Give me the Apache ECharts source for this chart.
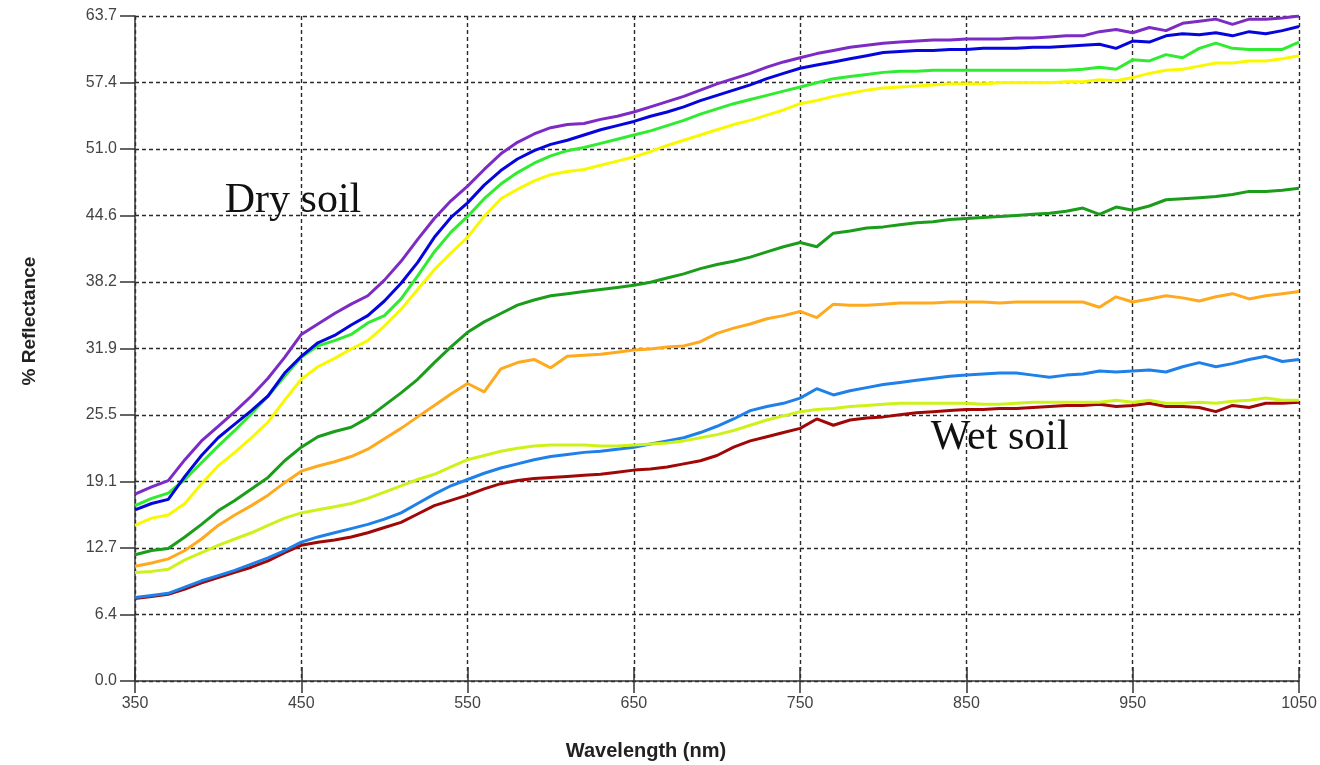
<!DOCTYPE html>
<html>
<head>
    <meta charset="utf-8">
    <title>Soil reflectance</title>
    <script src="https://cdn.jsdelivr.net/npm/echarts@6/dist/echarts.min.js"></script>
    <style type="text/css">
        html, body { margin: 0; padding: 0; background: #fff; }
        #main { width: 1320px; height: 765px; }
    </style>
</head>
<body>
<div id="main"></div>
<script type="text/javascript">
    // wavelength (nm), one sample every 10 nm
    var wavelengths = [350, 360, 370, 380, 390, 400, 410, 420, 430, 440,
        450, 460, 470, 480, 490, 500, 510, 520, 530, 540,
        550, 560, 570, 580, 590, 600, 610, 620, 630, 640,
        650, 660, 670, 680, 690, 700, 710, 720, 730, 740,
        750, 760, 770, 780, 790, 800, 810, 820, 830, 840,
        850, 860, 870, 880, 890, 900, 910, 920, 930, 940,
        950, 960, 970, 980, 990, 1000, 1010, 1020, 1030, 1040, 1050];

    var yTickLabels = ['0.0', '6.4', '12.7', '19.1', '25.5', '31.9', '38.2', '44.6', '51.0', '57.4', '63.7'];
    var xTickLabels = ['350', '450', '550', '650', '750', '850', '950', '1050'];

    // % reflectance, driest (top) to wettest (bottom)
    var purple = [17.9, 18.6, 19.2, 21.2, 23.0, 24.4, 25.8, 27.3, 29.0, 31.0,
        33.2, 34.2, 35.2, 36.1, 36.9, 38.4, 40.2, 42.3, 44.3, 46.0,
        47.4, 49.0, 50.5, 51.6, 52.4, 53.0, 53.3, 53.4, 53.8, 54.1,
        54.5, 55.0, 55.5, 56.0, 56.6, 57.2, 57.7, 58.2, 58.8, 59.3,
        59.7, 60.1, 60.4, 60.7, 60.9, 61.1, 61.2, 61.3, 61.4, 61.4,
        61.5, 61.5, 61.5, 61.6, 61.6, 61.7, 61.8, 61.8, 62.2, 62.4,
        62.1, 62.6, 62.3, 63.0, 63.2, 63.4, 62.9, 63.4, 63.4, 63.5, 63.7];
    var blue = [16.4, 17.0, 17.4, 19.6, 21.6, 23.3, 24.6, 25.9, 27.3, 29.5,
        31.1, 32.4, 33.1, 34.1, 35.0, 36.4, 38.1, 40.1, 42.5, 44.4,
        45.8, 47.5, 48.9, 50.0, 50.8, 51.4, 51.8, 52.3, 52.8, 53.2,
        53.6, 54.1, 54.5, 55.0, 55.6, 56.1, 56.6, 57.1, 57.7, 58.2,
        58.7, 59.0, 59.3, 59.6, 59.9, 60.2, 60.3, 60.4, 60.4, 60.5,
        60.5, 60.6, 60.6, 60.6, 60.7, 60.7, 60.8, 60.9, 61.0, 60.6,
        61.3, 61.2, 61.8, 62.0, 61.9, 62.1, 61.8, 62.2, 62.0, 62.3, 62.7];
    var green = [16.8, 17.5, 18.0, 19.3, 20.9, 22.5, 24.0, 25.6, 27.3, 29.2,
        31.0, 32.1, 32.6, 33.2, 34.3, 35.0, 36.6, 38.8, 41.1, 43.0,
        44.5, 46.2, 47.6, 48.7, 49.6, 50.3, 50.8, 51.1, 51.5, 51.9,
        52.3, 52.7, 53.2, 53.7, 54.3, 54.8, 55.3, 55.7, 56.1, 56.5,
        56.9, 57.3, 57.7, 57.9, 58.1, 58.3, 58.4, 58.4, 58.5, 58.5,
        58.5, 58.5, 58.5, 58.5, 58.5, 58.5, 58.5, 58.6, 58.8, 58.6,
        59.5, 59.4, 60.0, 59.7, 60.6, 61.1, 60.6, 60.5, 60.5, 60.5, 61.2];
    var yellow = [14.9, 15.6, 15.9, 17.0, 18.9, 20.6, 21.9, 23.3, 24.8, 26.9,
        28.9, 30.1, 30.9, 31.8, 32.6, 34.0, 35.6, 37.5, 39.4, 41.0,
        42.5, 44.5, 46.2, 47.1, 47.9, 48.5, 48.8, 49.0, 49.4, 49.8,
        50.2, 50.7, 51.3, 51.8, 52.3, 52.8, 53.3, 53.7, 54.2, 54.7,
        55.3, 55.6, 56.0, 56.3, 56.6, 56.8, 56.9, 57.0, 57.1, 57.2,
        57.2, 57.2, 57.3, 57.3, 57.3, 57.3, 57.4, 57.4, 57.6, 57.5,
        57.8, 58.2, 58.5, 58.6, 58.9, 59.2, 59.2, 59.4, 59.4, 59.6, 59.9];
    var darkGreen = [12.1, 12.5, 12.7, 13.8, 15.0, 16.3, 17.3, 18.4, 19.5, 21.1,
        22.4, 23.4, 23.9, 24.3, 25.2, 26.4, 27.6, 28.9, 30.5, 32.0,
        33.4, 34.4, 35.2, 36.0, 36.5, 36.9, 37.1, 37.3, 37.5, 37.7,
        37.9, 38.2, 38.6, 39.0, 39.5, 39.9, 40.2, 40.6, 41.1, 41.6,
        42.0, 41.6, 42.9, 43.1, 43.4, 43.5, 43.7, 43.9, 44.0, 44.2,
        44.3, 44.4, 44.5, 44.6, 44.7, 44.8, 45.0, 45.3, 44.7, 45.4,
        45.1, 45.5, 46.1, 46.2, 46.3, 46.4, 46.6, 46.9, 46.9, 47.0, 47.2];
    var orange = [11.0, 11.3, 11.7, 12.5, 13.6, 14.9, 15.9, 16.8, 17.8, 19.0,
        20.1, 20.6, 21.0, 21.5, 22.2, 23.2, 24.2, 25.3, 26.4, 27.5,
        28.5, 27.7, 29.9, 30.5, 30.8, 30.0, 31.1, 31.2, 31.3, 31.5,
        31.7, 31.8, 32.0, 32.1, 32.5, 33.3, 33.8, 34.2, 34.7, 35.0,
        35.4, 34.8, 36.1, 36.0, 36.0, 36.1, 36.2, 36.2, 36.2, 36.3,
        36.3, 36.3, 36.2, 36.3, 36.3, 36.3, 36.3, 36.3, 35.8, 36.8,
        36.3, 36.6, 36.9, 36.7, 36.4, 36.8, 37.1, 36.6, 36.9, 37.1, 37.3];
    var lightBlue = [8.0, 8.2, 8.4, 9.0, 9.6, 10.1, 10.6, 11.2, 11.8, 12.5,
        13.3, 13.8, 14.2, 14.6, 15.0, 15.5, 16.1, 17.0, 17.9, 18.7,
        19.3, 19.9, 20.4, 20.8, 21.2, 21.5, 21.7, 21.9, 22.0, 22.2,
        22.4, 22.7, 23.0, 23.3, 23.8, 24.4, 25.1, 25.9, 26.3, 26.6,
        27.1, 28.0, 27.4, 27.8, 28.1, 28.4, 28.6, 28.8, 29.0, 29.2,
        29.3, 29.4, 29.5, 29.5, 29.3, 29.1, 29.3, 29.4, 29.7, 29.6,
        29.7, 29.8, 29.6, 30.1, 30.5, 30.1, 30.4, 30.8, 31.1, 30.6, 30.8];
    var yellowGreen = [10.4, 10.5, 10.7, 11.6, 12.3, 13.0, 13.6, 14.2, 14.9, 15.6,
        16.1, 16.4, 16.7, 17.0, 17.5, 18.1, 18.7, 19.3, 19.8, 20.5,
        21.2, 21.6, 22.0, 22.3, 22.5, 22.6, 22.6, 22.6, 22.5, 22.5,
        22.6, 22.7, 22.8, 23.0, 23.3, 23.6, 24.0, 24.5, 25.0, 25.4,
        25.8, 26.0, 26.1, 26.3, 26.4, 26.5, 26.6, 26.6, 26.6, 26.6,
        26.6, 26.5, 26.5, 26.6, 26.7, 26.7, 26.7, 26.7, 26.7, 26.9,
        26.7, 26.9, 26.6, 26.6, 26.7, 26.6, 26.8, 26.9, 27.1, 26.9, 26.9];
    var darkRed = [7.9, 8.1, 8.3, 8.8, 9.4, 9.9, 10.4, 10.9, 11.5, 12.3,
        13.0, 13.3, 13.5, 13.8, 14.2, 14.7, 15.2, 16.0, 16.8, 17.3,
        17.8, 18.4, 18.9, 19.2, 19.4, 19.5, 19.6, 19.7, 19.8, 20.0,
        20.2, 20.3, 20.5, 20.8, 21.1, 21.6, 22.4, 23.0, 23.4, 23.8,
        24.2, 25.1, 24.5, 25.0, 25.2, 25.3, 25.5, 25.7, 25.8, 25.9,
        26.0, 26.0, 26.1, 26.1, 26.2, 26.3, 26.4, 26.4, 26.5, 26.3,
        26.4, 26.6, 26.3, 26.3, 26.2, 25.8, 26.4, 26.2, 26.6, 26.6, 26.7];

    var curves = [
        {name: 'Dry 1', data: darkRed, color: '#A00808'},
        {name: 'Dry 2', data: lightBlue, color: '#1E80E8'},
        {name: 'Dry 3', data: yellowGreen, color: '#CDF21A'},
        {name: 'Dry 4', data: orange, color: '#FFAA1E'},
        {name: 'Dry 5', data: darkGreen, color: '#1B9C1B'},
        {name: 'Dry 6', data: yellow, color: '#F8F800'},
        {name: 'Dry 7', data: green, color: '#30EC30'},
        {name: 'Dry 8', data: blue, color: '#0606DC'},
        {name: 'Dry 9', data: purple, color: '#7C2CC4'}
    ];

    var chart = echarts.init(document.getElementById('main'));

    var gridDash = {type: [4, 3], color: '#2a2a2a', width: 1.4};

    var series = curves.map(function (c) {
        return {
            name: c.name,
            type: 'line',
            showSymbol: false,
            symbol: 'none',
            silent: true,
            lineStyle: {color: c.color, width: 3},
            itemStyle: {color: c.color},
            data: wavelengths.map(function (w, i) { return [w, c.data[i]]; })
        };
    });

    // text annotations in data coordinates
    series.push({
        type: 'line',
        data: [],
        silent: true,
        markPoint: {
            symbol: 'circle',
            symbolSize: 1,
            itemStyle: {color: 'rgba(0,0,0,0)'},
            label: {
                show: true,
                position: 'inside',
                color: '#111',
                fontFamily: '"Liberation Serif", "Times New Roman", serif',
                fontSize: 42,
                formatter: '{b}'
            },
            data: [
                {name: 'Dry soil', coord: [445, 46.0]},
                {name: 'Wet soil', coord: [870, 23.3]}
            ]
        }
    });

    chart.setOption({
        animation: false,
        backgroundColor: '#fff',
        grid: {left: 135, right: 21, top: 16, bottom: 84},
        xAxis: [{
            type: 'value',
            min: 350,
            max: 1050,
            interval: 100,
            axisLine: {show: true, lineStyle: {color: '#333', width: 1.5}},
            axisTick: {show: true, length: 12, lineStyle: {color: '#333', width: 1.5}},
            axisLabel: {
                margin: 15,
                color: '#444',
                fontSize: 16,
                fontFamily: '"Liberation Sans", Arial, sans-serif',
                formatter: function (v) { return xTickLabels[Math.round((v - 350) / 100)]; }
            },
            splitLine: {show: true, lineStyle: gridDash}
        }, {
            type: 'value',
            min: 350,
            max: 1050,
            interval: 100,
            position: 'bottom',
            axisLine: {show: false},
            axisTick: {show: true, inside: true, length: 14, lineStyle: {color: '#333', width: 1.5}},
            axisLabel: {show: false},
            splitLine: {show: false}
        }],
        yAxis: {
            type: 'value',
            min: 0,
            max: 63.7,
            interval: 6.37,
            axisLine: {show: true, lineStyle: {color: '#333', width: 1.5}},
            axisTick: {show: true, length: 15, lineStyle: {color: '#333', width: 1.5}},
            axisLabel: {
                margin: 18,
                color: '#444',
                fontSize: 16,
                fontFamily: '"Liberation Sans", Arial, sans-serif',
                formatter: function (v) { return yTickLabels[Math.round(v / 6.37)]; }
            },
            splitLine: {show: true, lineStyle: gridDash}
        },
        graphic: [
            {
                type: 'text',
                x: 30,
                y: 321,
                rotation: Math.PI / 2,
                style: {
                    text: '% Reflectance',
                    fill: '#222',
                    font: 'bold 19px "Liberation Sans", Arial, sans-serif',
                    textAlign: 'center',
                    textVerticalAlign: 'middle'
                }
            },
            {
                type: 'text',
                x: 646,
                y: 751,
                style: {
                    text: 'Wavelength (nm)',
                    fill: '#222',
                    font: 'bold 20px "Liberation Sans", Arial, sans-serif',
                    textAlign: 'center',
                    textVerticalAlign: 'middle'
                }
            }
        ],
        series: series
    });
</script>
</body>
</html>
